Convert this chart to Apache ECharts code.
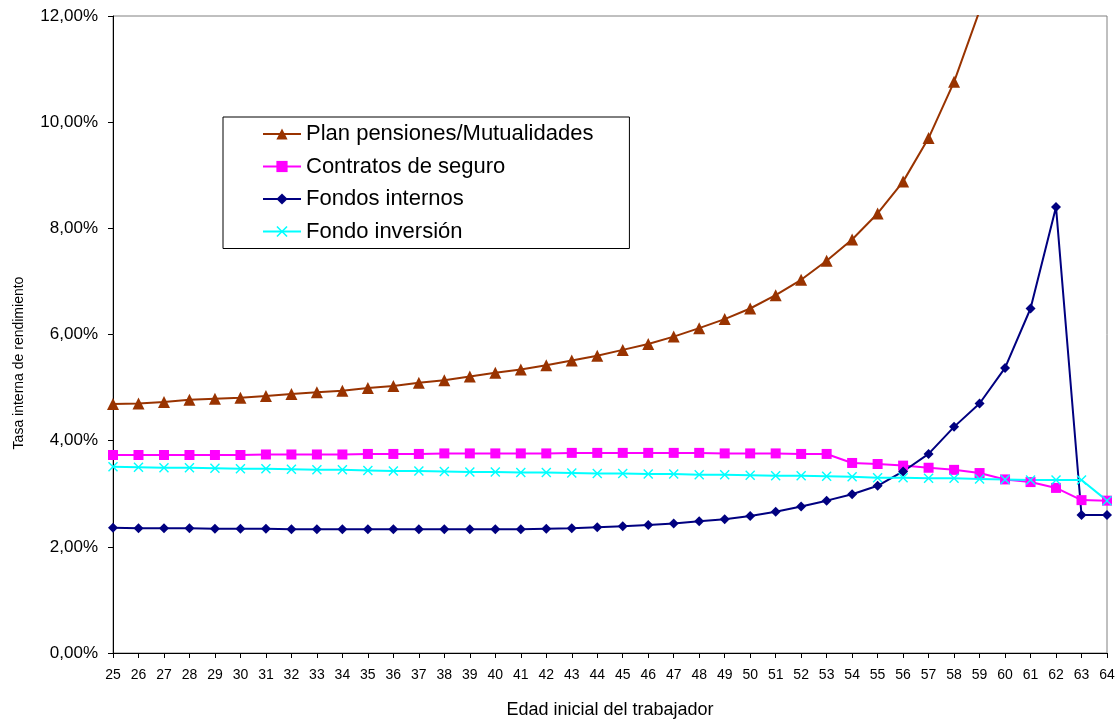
<!DOCTYPE html>
<html>
<head>
<meta charset="utf-8">
<script src="https://cdn.jsdelivr.net/npm/echarts@6/dist/echarts.min.js"></script>
<style>
  html, body { margin: 0; padding: 0; background: #ffffff; }
  #chart { width: 1120px; height: 719px; }
</style>
</head>
<body>
<div id="chart"></div>
<script>
// Edad inicial del trabajador (25 .. 64)
var edades = ['25','26','27','28','29','30','31','32','33','34','35','36','37','38','39','40','41','42','43','44',
              '45','46','47','48','49','50','51','52','53','54','55','56','57','58','59','60','61','62','63','64'];

// Tasa interna de rendimiento (%) por instrumento
var planPensiones = [4.69, 4.70, 4.73, 4.77, 4.79, 4.81, 4.84, 4.88, 4.91, 4.94,
                     4.99, 5.03, 5.09, 5.14, 5.21, 5.28, 5.34, 5.42, 5.51, 5.60,
                     5.71, 5.82, 5.96, 6.12, 6.29, 6.49, 6.74, 7.03, 7.39, 7.79,
                     8.28, 8.88, 9.70, 10.76, 12.10, null, null, null, null, null];

var contratosSeguro = [3.73, 3.73, 3.73, 3.73, 3.73, 3.73, 3.74, 3.74, 3.74, 3.74,
                       3.75, 3.75, 3.75, 3.76, 3.76, 3.76, 3.76, 3.76, 3.77, 3.77,
                       3.77, 3.77, 3.77, 3.77, 3.76, 3.76, 3.76, 3.75, 3.75, 3.58,
                       3.56, 3.53, 3.49, 3.45, 3.39, 3.27, 3.22, 3.11, 2.88, 2.87];

var fondosInternos = [2.36, 2.35, 2.35, 2.35, 2.34, 2.34, 2.34, 2.33, 2.33, 2.33,
                      2.33, 2.33, 2.33, 2.33, 2.33, 2.33, 2.33, 2.34, 2.35, 2.37,
                      2.39, 2.41, 2.44, 2.48, 2.52, 2.58, 2.66, 2.76, 2.87, 2.99,
                      3.15, 3.42, 3.75, 4.26, 4.70, 5.37, 6.49, 8.40, 2.60, 2.60];

var fondoInversion = [3.51, 3.50, 3.49, 3.49, 3.48, 3.47, 3.47, 3.46, 3.45, 3.45,
                      3.44, 3.43, 3.43, 3.42, 3.41, 3.41, 3.40, 3.40, 3.39, 3.38,
                      3.38, 3.37, 3.37, 3.36, 3.36, 3.35, 3.34, 3.34, 3.33, 3.32,
                      3.30, 3.30, 3.29, 3.29, 3.28, 3.27, 3.26, 3.26, 3.26, 2.87];

var nombresSeries = ['Plan pensiones/Mutualidades', 'Contratos de seguro', 'Fondos internos', 'Fondo inversión'];

var FONT = '"Liberation Sans", Arial, Helvetica, sans-serif';
// filled "x" marker
var CROSS = 'path://M0,1L1,0L5,4L9,0L10,1L6,5L10,9L9,10L5,6L1,10L0,9L4,5Z';

function serie(nombre, datos, color, simbolo, tam) {
  return {
    name: nombre,
    type: 'line',
    data: datos,
    symbol: simbolo,
    symbolSize: tam,
    showAllSymbol: true,
    connectNulls: false,
    clip: true,
    lineStyle: { color: color, width: 2 },
    itemStyle: { color: color, borderWidth: 0 },
    emphasis: { disabled: true }
  };
}

var chart = echarts.init(document.getElementById('chart'), null, { renderer: 'canvas' });

chart.setOption({
  animation: false,
  backgroundColor: '#ffffff',
  textStyle: { fontFamily: FONT, color: '#000' },
  grid: {
    left: 113, right: 13, top: 16, bottom: 66,
    show: true, borderColor: '#808080', borderWidth: 1, backgroundColor: 'transparent'
  },
  legend: {
    orient: 'vertical',
    left: 223, top: 117,
    padding: [6, 36, 6, 39],
    borderColor: '#000', borderWidth: 1,
    backgroundColor: '#ffffff',
    itemWidth: 38, itemHeight: 14, itemGap: 10.5,
    selectedMode: false,
    textStyle: { fontFamily: FONT, fontSize: 22, color: '#000', lineHeight: 21 },
    data: nombresSeries
  },
  xAxis: {
    type: 'category',
    data: edades,
    boundaryGap: false,
    axisLine: { lineStyle: { color: '#000', width: 1 } },
    axisTick: { show: true, interval: 0, length: 5, inside: false, lineStyle: { color: '#000' } },
    axisLabel: { interval: 0, margin: 15, fontSize: 14, color: '#000', fontFamily: FONT },
    splitLine: { show: false }
  },
  yAxis: {
    type: 'value',
    min: 0, max: 12, interval: 2,
    axisLine: { show: true, lineStyle: { color: '#000', width: 1 } },
    axisTick: { show: true, length: 5, inside: false, lineStyle: { color: '#000' } },
    axisLabel: {
      margin: 15, fontSize: 17, color: '#000', fontFamily: FONT,
      formatter: function (v) { return v.toFixed(2).replace('.', ',') + '%'; }
    },
    splitLine: { show: false }
  },
  graphic: [
    {
      type: 'text', x: 610, y: 710,
      style: { text: 'Edad inicial del trabajador', fontFamily: FONT, fontSize: 18, fill: '#000',
               textAlign: 'center', textVerticalAlign: 'middle' }
    },
    {
      type: 'text', x: 19, y: 363, rotation: Math.PI / 2,
      style: { text: 'Tasa interna de rendimiento', fontFamily: FONT, fontSize: 14, fill: '#000',
               textAlign: 'center', textVerticalAlign: 'middle' }
    }
  ],
  series: [
    serie(nombresSeries[0], planPensiones, '#993300', 'triangle', 12),
    serie(nombresSeries[1], contratosSeguro, '#FF00FF', 'rect', 10),
    serie(nombresSeries[2], fondosInternos, '#000080', 'diamond', 10),
    serie(nombresSeries[3], fondoInversion, '#00FFFF', CROSS, 10)
  ]
});
</script>
</body>
</html>
